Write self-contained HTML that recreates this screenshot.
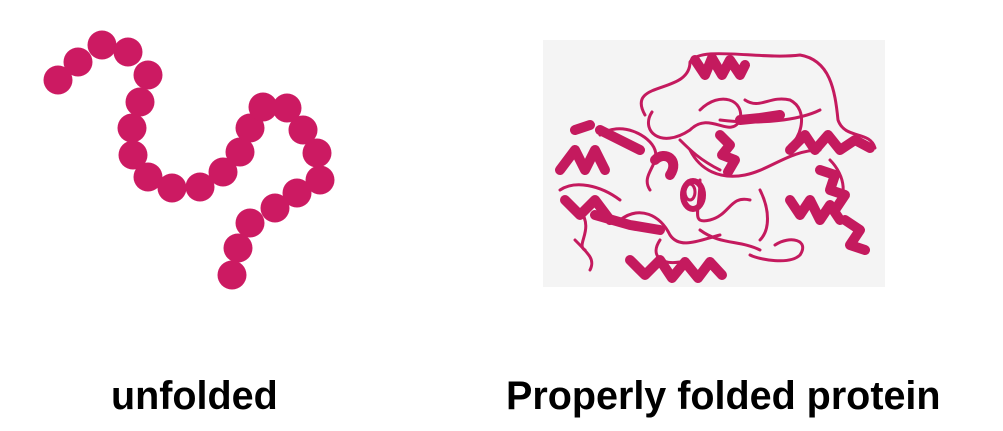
<!DOCTYPE html>
<html><head><meta charset="utf-8"><style>
html,body{margin:0;padding:0;background:#fff;}
#root{position:relative;width:1003px;height:431px;overflow:hidden;background:#fff;}
.lbl{position:absolute;font-family:"Liberation Sans",sans-serif;font-weight:bold;font-size:39.5px;color:#000;white-space:nowrap;line-height:1;}
</style></head><body>
<div id="root">
<svg width="1003" height="431" style="position:absolute;left:0;top:0">
<g id="chain" fill="#cc1a62"></g>
<rect x="543" y="40" width="342" height="247" fill="#f4f4f4"/>
<g fill="none" stroke="#c41a5e" stroke-linecap="round" stroke-linejoin="round">
<g stroke-width="3">
<path d="M645 115 C625 80 690 95 690 62 C700 45 760 60 800 55 C830 60 835 90 838 120 C845 140 870 130 875 148"/>
<path d="M652 112 C640 130 660 150 690 130 C710 110 730 140 740 120 C745 100 720 90 700 110"/>
<path d="M600 135 C620 120 650 135 655 150 C660 165 640 175 650 190"/>
<path d="M690 150 C700 170 720 180 745 175 C770 170 790 150 820 150"/>
<path d="M745 100 C760 110 770 95 790 100 C810 110 800 140 790 145"/>
<path d="M720 120 C760 125 800 120 820 110"/>
<path d="M700 180 C700 210 690 225 710 220 C730 215 730 195 750 200"/>
<path d="M580 210 C595 230 575 245 585 250"/>
<path d="M575 240 C590 255 595 260 590 270"/>
<path d="M775 245 C790 235 810 240 800 255 C790 265 760 260 750 255"/>
<path d="M620 220 C640 205 660 215 670 235 C680 250 700 240 720 235"/>
<path d="M760 190 C770 210 770 230 760 240"/>
<path d="M560 190 C575 180 600 185 620 200"/>
<path d="M680 140 C690 150 700 160 720 170"/>
<path d="M830 160 C845 175 850 200 830 210"/>
<path d="M700 230 C720 245 740 240 760 250"/>
<path d="M660 240 C650 255 660 265 680 262"/>
</g>
<g stroke-width="10">
<path d="M695 60 L705 75 L712 58 L722 75 L730 60 L740 75 L745 65"/>
<path d="M560 170 L575 150 L585 170 L595 150 L605 170"/>
<path d="M565 200 L580 215 L595 200 L610 220"/>
<path d="M595 215 L630 225 L660 230"/>
<path d="M630 260 L645 275 L660 260 L672 278 L685 262 L698 278 L710 262 L722 275"/>
<path d="M720 135 L730 145 L722 155 L735 160 L728 172"/>
<path d="M790 150 L805 135 L815 150 L828 135 L840 150 L855 140 L870 148"/>
<path d="M820 170 L835 175 L830 190 L845 195 L835 210"/>
<path d="M790 200 L800 215 L810 200 L820 220 L830 205 L840 220"/>
<path d="M845 220 L860 230 L850 245 L865 250"/>
<path d="M600 130 L620 140 L640 150"/>
<path d="M740 120 L760 118 L780 115"/>
<path d="M655 160 C665 150 680 160 670 175"/>
<path d="M575 130 L590 125"/>
</g>
<ellipse cx="693" cy="195" rx="10" ry="14" stroke-width="6"/>
<ellipse cx="690" cy="192" rx="5" ry="8" stroke-width="3"/>
</g>
</svg>
<div class="lbl" style="left:111px;top:377px;">unfolded</div>
<div class="lbl" style="left:506px;top:377px;">Properly folded protein</div>
</div>
<script>
const beadX=[58,78,102,128,148,140,132,133,148,172,200,223,240,250,263,287,303,317,320,297,275,250,238,232];
const beadY=[80,62,45,52,75,102,128,155,177,188,187,172,152,128,107,108,130,153,180,193,208,223,248,275];
const g=document.getElementById('chain');
for(let i=0;i<beadX.length;i++){
  const c=document.createElementNS('http://www.w3.org/2000/svg','circle');
  c.setAttribute('cx',beadX[i]);c.setAttribute('cy',beadY[i]);c.setAttribute('r',14.5);
  
  
  g.appendChild(c);
}
</script>
</body></html>
